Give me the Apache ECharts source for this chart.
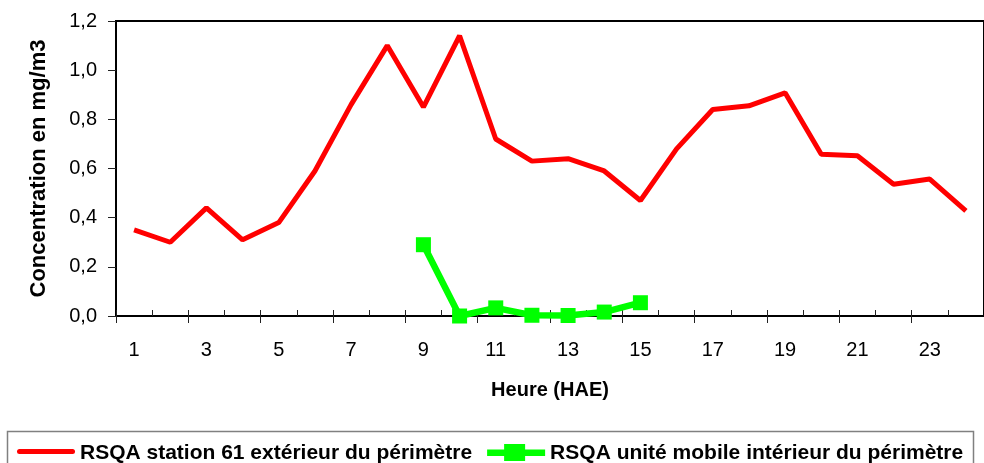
<!DOCTYPE html>
<html>
<head>
<meta charset="utf-8">
<script src="https://cdn.jsdelivr.net/npm/echarts@6/dist/echarts.min.js"></script>
<style>
html,body{margin:0;padding:0;background:#fff;}
#chart{width:984px;height:463px;}
</style>
</head>
<body>
<div id="chart"></div>
<script>
const hours = ['1','2','3','4','5','6','7','8','9','10','11','12','13','14','15','16','17','18','19','20','21','22','23','24'];
const stationName = 'RSQA station 61 extérieur du périmètre';
const mobileName = 'RSQA unité mobile intérieur du périmètre';
const station61 = [0.35,0.30,0.44,0.31,0.38,0.59,0.86,1.10,0.85,1.14,0.72,0.63,0.64,0.59,0.47,0.68,0.84,0.855,0.908,0.658,0.652,0.536,0.557,0.428];
const mobile = [null,null,null,null,null,null,null,null,0.29,0.0,0.033,0.003,0.002,0.016,0.054,null,null,null,null,null,null,null,null,null];
const yTicks = {min:0, max:1.2, interval:0.2};

const chart = echarts.init(document.getElementById('chart'));
const FONT = 'Arial, "Liberation Sans", sans-serif';
const redIcon = 'path://M0,0 M58,20 M2.5,5.5 L55.5,5.5 A2.5,2.5 0 0 1 55.5,10.5 L2.5,10.5 A2.5,2.5 0 0 1 2.5,5.5 Z';
const greenIcon = 'path://M0,0 M58,20 M0,6 L17,6 L17,0.5 L38,0.5 L38,6 L58,6 L58,12.5 L38,12.5 L38,17.5 L17,17.5 L17,12.5 L0,12.5 Z';
chart.setOption({
  animation:false,
  backgroundColor:'#fff',
  textStyle:{fontFamily:FONT},
  grid:{left:116, top:21, right:-4, bottom:147, show:true, borderColor:'#000', borderWidth:2, backgroundColor:'transparent'},
  graphic:[{type:'rect', shape:{x:7.5, y:431.5, width:966, height:40}, style:{fill:'none', stroke:'#808080', lineWidth:1.5}, z:0}],
  legend:{
    left:12, top:438, itemWidth:58, itemHeight:20, itemGap:15,
    textStyle:{fontFamily:FONT, fontWeight:'bold', fontSize:21, color:'#000'},
    data:[{name:stationName, icon:redIcon, itemStyle:{color:'#ff0000'}},
          {name:mobileName, icon:greenIcon, itemStyle:{color:'#00ff00'}}]
  },
  xAxis:[{
    type:'category', data:hours, boundaryGap:true, position:'bottom',
    name:'Heure (HAE)', nameLocation:'middle', nameGap:64,
    nameTextStyle:{fontWeight:'bold', fontSize:20, color:'#000', fontFamily:FONT},
    axisLine:{lineStyle:{color:'#000', width:2}},
    axisTick:{show:true, length:7, lineStyle:{color:'#222', width:1}},
    axisLabel:{interval:1, fontSize:20, color:'#000', margin:24, fontFamily:FONT},
    splitLine:{show:false}
  },{
    type:'category', data:hours, boundaryGap:true, position:'bottom',
    axisLine:{show:false},
    axisTick:{show:true, inside:true, length:6, lineStyle:{color:'#222', width:1}},
    axisLabel:{show:false}, splitLine:{show:false}
  }],
  yAxis:{
    type:'value', min:yTicks.min, max:yTicks.max, interval:yTicks.interval,
    name:'Concentration en mg/m3', nameLocation:'middle', nameGap:66,
    nameTextStyle:{fontWeight:'bold', fontSize:22, color:'#000', fontFamily:FONT},
    axisLine:{show:true, lineStyle:{color:'#000', width:2}},
    axisTick:{show:true, length:8, lineStyle:{color:'#222', width:1}},
    axisLabel:{fontSize:20, color:'#000', margin:19, fontFamily:FONT,
      formatter:v=>v.toFixed(1).replace('.',',')},
    splitLine:{show:false}
  },
  series:[{
    name:stationName, type:'line', data:station61, symbol:'none',
    lineStyle:{color:'#ff0000', width:5}, itemStyle:{color:'#ff0000'}, z:3
  },{
    name:mobileName, type:'line', data:mobile, symbol:'rect', symbolSize:15,
    lineStyle:{color:'#00ff00', width:6.5}, itemStyle:{color:'#00ff00'}, z:4
  }]
});
</script>
</body>
</html>
